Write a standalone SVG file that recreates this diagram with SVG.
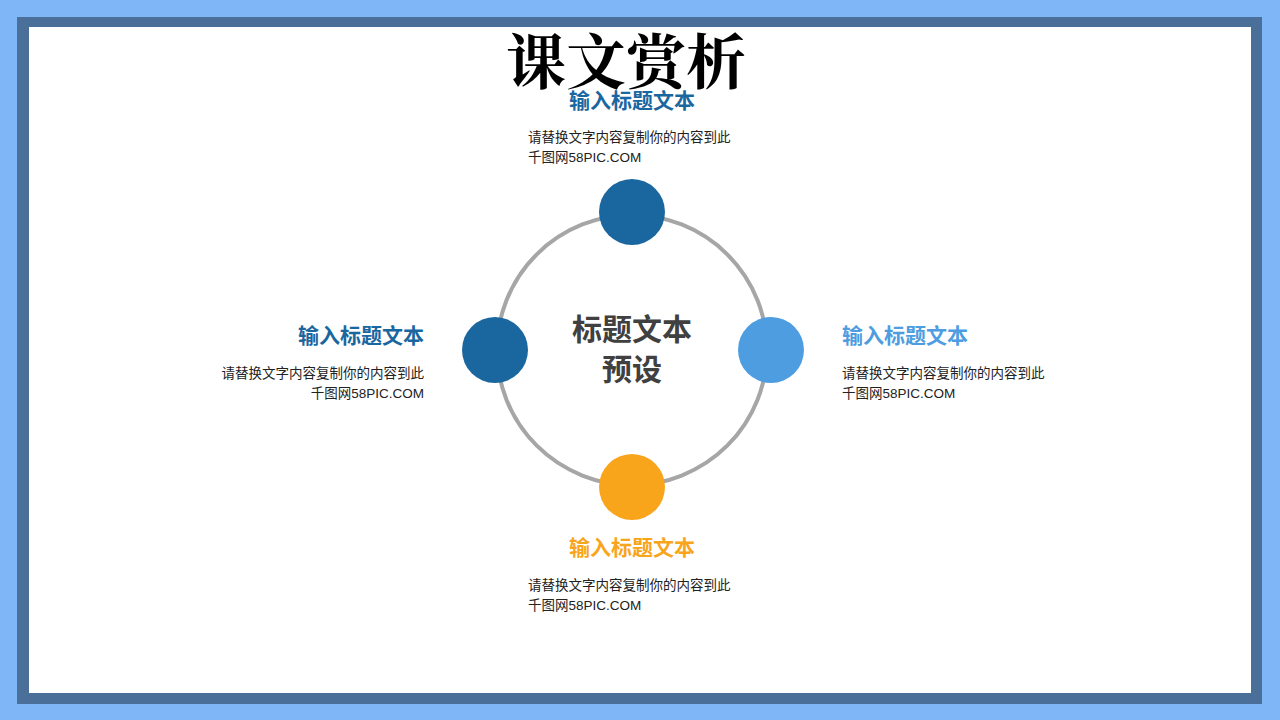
<svg xmlns="http://www.w3.org/2000/svg" width="1280" height="720" viewBox="0 0 1280 720">
<style>
.t{font-family:"Noto Sans CJK SC","Liberation Sans",sans-serif;font-weight:bold;font-size:21px}
.c{font-family:"Noto Sans CJK SC","Liberation Sans",sans-serif;font-weight:bold;font-size:30px;fill:#404040}
.d{font-family:"Liberation Sans","Noto Sans CJK SC",sans-serif;font-size:13.5px;fill:#222}
</style>
<rect width="1280" height="720" fill="#7EB6F8"/>
<rect x="17" y="17" width="1245" height="687" fill="#4A7099"/>
<rect x="29" y="27" width="1222" height="666" fill="#fff"/>
<text x="626" y="84" text-anchor="middle" font-family="Noto Serif CJK SC,Noto Sans CJK SC,serif" font-weight="bold" font-size="60" fill="#000">课文赏析</text>
<g id="connectors"><circle cx="632" cy="350" r="135" fill="none" stroke="#A6A6A6" stroke-width="4"/></g>
<g id="center"><text class="c" x="632" y="340" text-anchor="middle">标题文本</text><text class="c" x="632" y="380" text-anchor="middle">预设</text></g>
<g id="n-top"><circle cx="632" cy="212" r="33" fill="#1A67A0"/><text class="t" x="632" y="108" text-anchor="middle" fill="#1A67A0">输入标题文本</text><text class="d" x="528" y="142">请替换文字内容复制你的内容到此</text><text class="d" x="528" y="162">千图网58PIC.COM</text></g>
<g id="n-left"><circle cx="495" cy="350" r="33" fill="#1A67A0"/><text class="t" x="424" y="343" text-anchor="end" fill="#1A67A0">输入标题文本</text><text class="d" x="424" y="378" text-anchor="end">请替换文字内容复制你的内容到此</text><text class="d" x="424" y="398" text-anchor="end">千图网58PIC.COM</text></g>
<g id="n-right"><circle cx="771" cy="350" r="33" fill="#4D9DE0"/><text class="t" x="842" y="343" fill="#4D9DE0">输入标题文本</text><text class="d" x="842" y="378">请替换文字内容复制你的内容到此</text><text class="d" x="842" y="398">千图网58PIC.COM</text></g>
<g id="n-bottom"><circle cx="632" cy="487" r="33" fill="#F8A51C"/><text class="t" x="632" y="555" text-anchor="middle" fill="#F8A51C">输入标题文本</text><text class="d" x="528" y="590">请替换文字内容复制你的内容到此</text><text class="d" x="528" y="610">千图网58PIC.COM</text></g>
</svg>
